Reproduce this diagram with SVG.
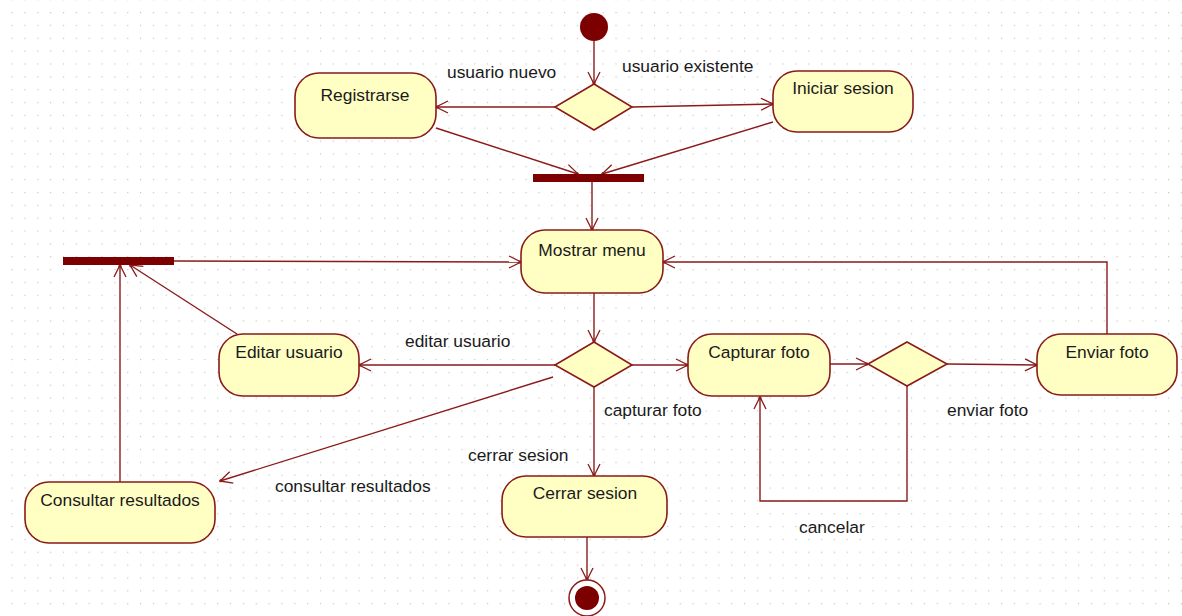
<svg xmlns="http://www.w3.org/2000/svg" width="1182" height="616" viewBox="0 0 1182 616">
<defs>
<pattern id="grid" x="11.5" y="12" width="12.85" height="12.85" patternUnits="userSpaceOnUse">
<rect x="0" y="0" width="1.2" height="1.2" fill="#c4c4c4"/>
</pattern>
<marker id="arr" viewBox="0 0 14 14" refX="13" refY="7" markerWidth="14" markerHeight="14" markerUnits="userSpaceOnUse" orient="auto">
<path d="M1,1 L13,7 L1,13" fill="none" stroke="#8b1a1a" stroke-width="1.3"/>
<circle cx="12" cy="7" r="1.6" fill="#8b1a1a"/>
</marker>
<style>
.node{fill:#ffffc4;stroke:#8b1a1a;stroke-width:1.6}
.bar{fill:#7d0000}
.lbl{font-family:"Liberation Sans",Arial,sans-serif;font-size:17.4px;fill:#1a1a1a}
.ctr{text-anchor:middle}
.con{fill:none;stroke:#8b1a1a;stroke-width:1.4;marker-end:url(#arr)}
</style>
</defs>
<rect width="1182" height="616" fill="#ffffff"/>
<rect width="1182" height="616" fill="url(#grid)"/>

<g id="connectors">
<line class="con" x1="594" y1="41" x2="594" y2="84"/>
<line class="con" x1="555" y1="107" x2="436" y2="107"/>
<line class="con" x1="632" y1="107" x2="773" y2="104"/>
<line class="con" x1="436" y1="128" x2="578" y2="174"/>
<line class="con" x1="773" y1="122" x2="602" y2="174"/>
<line class="con" x1="592" y1="182" x2="592" y2="230"/>
<line class="con" x1="174" y1="261" x2="521" y2="262"/>
<polyline class="con" points="1107,334 1107,262 663,262"/>
<line class="con" x1="594" y1="293" x2="594" y2="342"/>
<line class="con" x1="555" y1="365" x2="359" y2="365"/>
<line class="con" x1="237" y1="334" x2="130" y2="265"/>
<line class="con" x1="632" y1="365" x2="688" y2="365"/>
<line class="con" x1="830" y1="364" x2="868" y2="364"/>
<line class="con" x1="947" y1="364" x2="1037" y2="365"/>
<polyline class="con" points="907,386 907,501 760,501 760,397"/>
<line class="con" x1="553" y1="377" x2="220" y2="481"/>
<line class="con" x1="594" y1="387" x2="594" y2="476"/>
<line class="con" x1="120" y1="482" x2="120" y2="265"/>
<line class="con" x1="587" y1="537" x2="587" y2="580"/>
<text class="lbl" x="447" y="78">usuario nuevo</text>
<text class="lbl" x="622" y="72">usuario existente</text>
<text class="lbl" x="405" y="347">editar usuario</text>
<text class="lbl" x="604" y="416">capturar foto</text>
<text class="lbl" x="947" y="416">enviar foto</text>
<text class="lbl" x="468" y="461">cerrar sesion</text>
<text class="lbl" x="275" y="492">consultar resultados</text>
<text class="lbl" x="799" y="533">cancelar</text>
</g>

<g id="start"><circle cx="594" cy="27" r="14" fill="#7d0000"/></g>
<g id="decision1"><polygon class="node" points="594,84 632,107 594,130 555,107"/></g>
<g id="registrarse"><rect class="node" x="295" y="73" width="141" height="65" rx="24" ry="24"/><text class="lbl ctr" x="365" y="101">Registrarse</text></g>
<g id="iniciar"><rect class="node" x="773" y="71" width="140" height="61" rx="24" ry="24"/><text class="lbl ctr" x="843" y="94">Iniciar sesion</text></g>
<g id="join1"><rect class="bar" x="533" y="174" width="111" height="8"/></g>
<g id="mostrar"><rect class="node" x="521" y="230" width="142" height="63" rx="24" ry="24"/><text class="lbl ctr" x="592" y="256">Mostrar menu</text></g>
<g id="join2"><rect class="bar" x="63" y="257" width="111" height="8"/></g>
<g id="decision2"><polygon class="node" points="594,342 632,365 594,387 555,365"/></g>
<g id="editar"><rect class="node" x="219" y="334" width="140" height="62" rx="24" ry="24"/><text class="lbl ctr" x="289" y="358">Editar usuario</text></g>
<g id="capturar"><rect class="node" x="688" y="334" width="142" height="62" rx="24" ry="24"/><text class="lbl ctr" x="759" y="358">Capturar foto</text></g>
<g id="decision3"><polygon class="node" points="907,342 947,364 907,386 868,364"/></g>
<g id="enviar"><rect class="node" x="1037" y="334" width="140" height="61" rx="24" ry="24"/><text class="lbl ctr" x="1107" y="358">Enviar foto</text></g>
<g id="consultar"><rect class="node" x="25" y="482" width="190" height="61" rx="24" ry="24"/><text class="lbl ctr" x="120" y="506">Consultar resultados</text></g>
<g id="cerrar"><rect class="node" x="502" y="476" width="165" height="61" rx="24" ry="24"/><text class="lbl ctr" x="585" y="499">Cerrar sesion</text></g>
<g id="end"><circle cx="587" cy="598" r="18" fill="#ffffff" stroke="#8b1a1a" stroke-width="1.5"/><circle cx="587" cy="598" r="12" fill="#7d0000"/></g>
</svg>
